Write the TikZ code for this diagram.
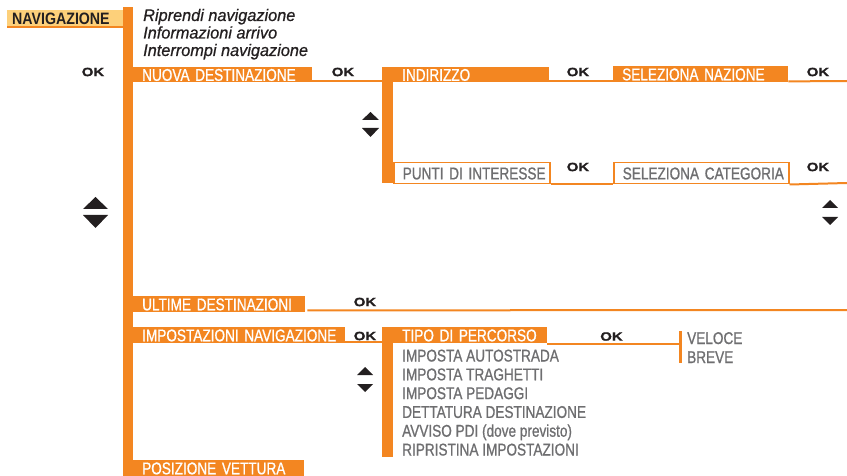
\documentclass[tikz,border=0pt]{standalone}
\usepackage{fontspec}
\setmainfont{Liberation Sans}
\newfontfamily\cnd{Liberation Sans}[FakeStretch=0.8,FakeBold=0.9]
\newfontfamily\cndb{Liberation Sans}[FakeStretch=0.86]
\newfontfamily\okf{Liberation Sans}[FakeStretch=1.25,FakeBold=1]
\newfontfamily\itf{Liberation Sans}[FakeStretch=0.97,FakeBold=0.7]
\definecolor{orng}{RGB}{243,134,33}
\definecolor{lorng}{RGB}{253,208,122}
\definecolor{gtxt}{RGB}{110,110,112}
\definecolor{dtxt}{RGB}{35,31,32}
\tikzset{
  obox/.style 2 args={anchor=north west, fill=orng, text=white, inner ysep=0pt, inner xsep=9pt,
     text width=#1, minimum height=#2, align=left, text height=12.2pt, text depth=0pt,
     font=\cnd\fontsize{17}{17}\selectfont},
  wbox/.style 2 args={anchor=north west, fill=white, draw=orng, line width=1.5pt, text=gtxt, inner ysep=0pt, inner xsep=9pt,
     text width=#1, minimum height=#2, align=left, text height=12.2pt, text depth=0pt,
     font=\cnd\fontsize{17}{17}\selectfont},
  bar/.style 2 args={anchor=north west, fill=orng, inner sep=0pt, minimum width=#1, minimum height=#2},
  okl/.style={font=\okf\bfseries\fontsize{12}{12}\selectfont, text=dtxt, inner sep=0pt},
  itl/.style={anchor=base west, font=\itf\itshape\fontsize{16.8}{16.8}\selectfont, text=dtxt, inner sep=0pt},
  gl/.style={anchor=base west, font=\cnd\fontsize{17}{17}\selectfont, text=gtxt, inner sep=0pt},
  ln/.style={draw=orng, line width=2pt},
  tri/.style={fill=dtxt}
}
\begin{document}
\begin{tikzpicture}[x=1pt,y=-1pt]
\useasboundingbox (0,0) rectangle (847,476);
% main bar and header
\node[bar={10pt}{469pt}] (bar1) at (123,7) {};
\node[anchor=north west, fill=lorng, text=dtxt, inner ysep=0pt, inner xsep=5pt, text width=106pt,
  minimum height=16pt, align=left, text height=11.8pt, text depth=0pt,
  font=\cndb\bfseries\fontsize{16.5}{16.5}\selectfont] (nav) at (7,10) {\mbox{NAVIGAZIONE}};
\draw[ln] ([yshift=-1pt]nav.south west) -- ([yshift=-1pt]nav.south east);
\node[itl] (it1) at (143,21) {Riprendi navigazione};
\node[itl] (it2) at (143,38.5) {Informazioni arrivo};
\node[itl] (it3) at (143,56) {Interrompi navigazione};
% nuova destinazione
\node[obox={161pt}{15pt}] (nuova) at (133,67) {\mbox{NUOVA DESTINAZIONE}};
\node[okl] (ok1) at (93,72) {OK};
\node[bar={11pt}{116pt}] (bar2) at (382,67) {};
\coordinate (n1) at ([yshift=1pt]nuova.south east);
\draw[ln] (n1) -- (n1 -| bar2.west);
\node[okl] (ok2) at (343,72) {OK};
\node[obox={138pt}{15pt}] (indir) at (393,67) {\mbox{INDIRIZZO}};
\node[obox={157pt}{16pt}] (selnaz) at (613,66) {\mbox{SELEZIONA NAZIONE}};
\draw[ln] ([yshift=1pt]indir.south east) -- ([yshift=1pt]selnaz.south west);
\coordinate (e1) at (847,81);
\draw[ln] ([yshift=1pt]selnaz.south east) -- (e1);
\node[okl] (ok3) at (578,72) {OK};
\node[okl] (ok4) at (818,72) {OK};
\node[wbox={138pt}{21pt}] (punti) at (393,162) {\mbox{PUNTI DI INTERESSE}};
\node[wbox={157pt}{21pt}] (selcat) at (613,162) {\mbox{SELEZIONA CATEGORIA}};
\draw[ln] (punti.south east) -- (selcat.south west);
\coordinate (e2) at (847,183);
\draw[ln] (selcat.south east) -- (e2);
\node[okl] (ok5) at (578,167) {OK};
\node[okl] (ok6) at (818,167) {OK};
% arrows
\fill[tri] (370.5,112) -- (379,120) -- (362,120) -- cycle;
\fill[tri] (362,128) -- (379,128) -- (370.5,137) -- cycle;
\fill[tri] (830,200) -- (838,208) -- (822,208) -- cycle;
\fill[tri] (822,217) -- (838,217) -- (830,225) -- cycle;
\fill[tri] (95.5,197) -- (108,209) -- (83,209) -- cycle;
\fill[tri] (83,215) -- (108,215) -- (95.5,228) -- cycle;
\fill[tri] (365,367) -- (373,375) -- (357,375) -- cycle;
\fill[tri] (357,384) -- (373,384) -- (365,392) -- cycle;
% ultime destinazioni
\node[obox={154pt}{16pt}] (ultime) at (133,296) {\mbox{ULTIME DESTINAZIONI}};
\coordinate (e3) at (847,310);
\draw[ln] ([xshift=2pt,yshift=2pt]ultime.south east) -- (e3);
\node[okl] (ok7) at (365,302) {OK};
% impostazioni
\node[obox={194pt}{16pt}] (impost) at (133,327) {\mbox{IMPOSTAZIONI NAVIGAZIONE}};
\node[okl] (ok8) at (365,336) {OK};
\node[bar={11pt}{130pt}] (bar3) at (382,327) {};
\coordinate (n2) at ([yshift=1pt]impost.south east);
\draw[ln] (n2) -- (n2 -| bar3.west);
\node[obox={136pt}{16pt}] (tipo) at (393,327) {\mbox{TIPO DI PERCORSO}};
\node[bar={3pt}{32pt}] (velbar) at (679,331) {};
\coordinate (n3) at ([yshift=-1pt]tipo.south east);
\draw[ln] (n3) -- (n3 -| velbar.west);
\node[okl] (ok9) at (611.5,336.5) {OK};
\node[gl] (vel) at (687,344) {VELOCE};
\node[gl] (brv) at (687,363) {BREVE};
\node[gl] (l1) at (402,361.5) {IMPOSTA AUTOSTRADA};
\node[gl] (l2) at (402,380.3) {IMPOSTA TRAGHETTI};
\node[gl] (l3) at (402,399.1) {IMPOSTA PEDAGGI};
\node[gl] (l4) at (402,417.9) {DETTATURA DESTINAZIONE};
\node[gl] (l5) at (402,436.7) {AVVISO PDI (dove previsto)};
\node[gl] (l6) at (402,455.5) {RIPRISTINA IMPOSTAZIONI};
% posizione
\node[obox={153pt}{16pt}] (posiz) at (133,460) {\mbox{POSIZIONE VETTURA}};
\end{tikzpicture}
\end{document}
